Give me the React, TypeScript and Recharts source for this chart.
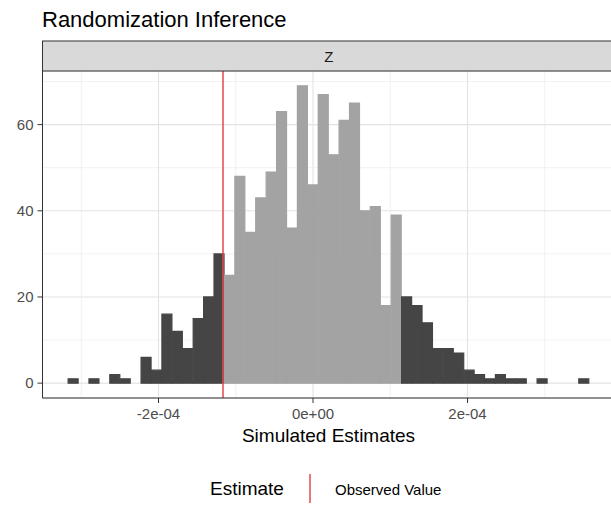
import { ComposedChart, Bar, Cell, XAxis, YAxis, CartesianGrid, ReferenceLine } from "recharts";

// histogram counts, 50 bins (left to right)
const binCounts = [
  1, 0, 1, 0, 2, 1, 0, 6, 3, 16,
  12, 8, 15, 20, 30, 25, 48, 35, 43, 49,
  63, 36, 69, 46, 67, 53, 61, 65, 40, 41,
  18, 39, 20, 18, 14, 8, 8, 7, 3, 2,
  1, 2, 1, 1, 0, 1, 0, 0, 0, 1,
];
const binStart = -3.17e-4;
const binWidth = 1.349e-5;
const observedValue = -1.165e-4;

const xMajorTicks = [-2e-4, 0, 2e-4];
const xTickLabels = ["-2e-04", "0e+00", "2e-04"];
const xMinorTicks = [-3e-4, -1e-4, 1e-4, 3e-4];
const yMajorTicks = [0, 20, 40, 60];
const yMinorTicks = [10, 30, 50, 70];

const xDomain = [-3.5016e-4, 3.909e-4];
const yDomain = [-3.45, 72.45];

const bins = binCounts.map((count, i) => {
  const mid = binStart + (i + 0.5) * binWidth;
  return { mid, count, extreme: Math.abs(mid) >= Math.abs(observedValue) };
});

const FONT = '"Liberation Sans", Arial, sans-serif';
const DARK = "#454545";
const LIGHT = "#A3A3A3";
const RED = "#E5484F";

const fmtX = (v: number) => {
  const i = xMajorTicks.findIndex((t) => Math.abs(t - v) < 1e-9);
  return i >= 0 ? xTickLabels[i] : "";
};

export default function App() {
  return (
    <div
      style={{
        position: "absolute",
        left: 0,
        top: 0,
        width: 611,
        height: 505,
        overflow: "hidden",
        background: "#fff",
        fontFamily: FONT,
      }}
    >
      <ComposedChart
        width={620}
        height={505}
        data={bins}
        margin={{ top: 71, right: 5, bottom: 77, left: 0 }}
        barCategoryGap={0}
        barGap={0}
      >
        <CartesianGrid xAxisId="minor" yAxisId="minor" stroke="#EEEEEE" strokeWidth={0.8} />
        <CartesianGrid stroke="#E3E3E3" strokeWidth={1.1} />
        <XAxis
          xAxisId="minor"
          type="number"
          dataKey="mid"
          domain={xDomain}
          ticks={xMinorTicks}
          allowDataOverflow
          hide
        />
        <YAxis yAxisId="minor" type="number" domain={yDomain} ticks={yMinorTicks} allowDataOverflow hide />
        <XAxis
          type="number"
          dataKey="mid"
          domain={xDomain}
          ticks={xMajorTicks}
          tickFormatter={fmtX}
          allowDataOverflow
          height={30}
          tickSize={5}
          tickMargin={5}
          tick={{ fontSize: 15, fill: "#4D4D4D", fontFamily: FONT }}
          axisLine={{ stroke: "#333333" }}
          tickLine={{ stroke: "#333333" }}
        />
        <YAxis
          type="number"
          domain={yDomain}
          ticks={yMajorTicks}
          allowDataOverflow
          width={42.5}
          tickSize={5}
          tickMargin={4}
          tick={{ fontSize: 15, fill: "#4D4D4D", fontFamily: FONT }}
          axisLine={{ stroke: "#333333" }}
          tickLine={{ stroke: "#333333" }}
        />
        <Bar dataKey="count" isAnimationActive={false}>
          {bins.map((b, i) => (
            <Cell
              key={i}
              fill={b.extreme ? DARK : LIGHT}
              stroke={b.extreme ? DARK : LIGHT}
              strokeWidth={1.2}
            />
          ))}
        </Bar>
        <ReferenceLine x={observedValue} stroke={RED} strokeWidth={1.5} />
      </ComposedChart>

      <svg
        width={611}
        height={505}
        style={{ position: "absolute", left: 0, top: 0, pointerEvents: "none" }}
      >
        <text x={42} y={26.7} fontSize={22} fill="#000" fontFamily={FONT}>
          Randomization Inference
        </text>
        <rect x={42.5} y={41} width={572.5} height={30} fill="#D9D9D9" stroke="#333333" strokeWidth={1} />
        <text x={328.75} y={62} fontSize={15} fill="#1A1A1A" textAnchor="middle" fontFamily={FONT}>
          Z
        </text>
        <text x={328.5} y={442} fontSize={19} fill="#000" textAnchor="middle" fontFamily={FONT}>
          Simulated Estimates
        </text>
        <text x={210} y={495} fontSize={19} fill="#000" fontFamily={FONT}>
          Estimate
        </text>
        <line x1={310} x2={310} y1={474} y2={503} stroke={RED} strokeWidth={1.5} />
        <text x={335} y={495} fontSize={15} fill="#000" fontFamily={FONT}>
          Observed Value
        </text>
      </svg>
    </div>
  );
}
